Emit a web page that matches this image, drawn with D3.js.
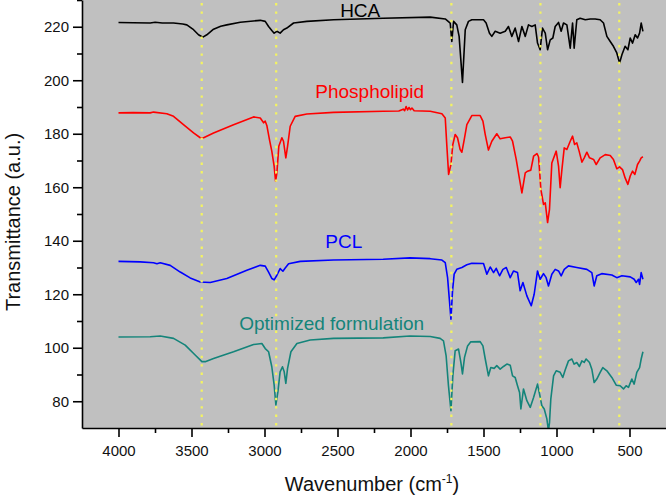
<!DOCTYPE html>
<html>
<head>
<meta charset="utf-8">
<script src="https://cdn.jsdelivr.net/npm/d3@7"></script>
<style>
  html, body { margin: 0; padding: 0; background: #ffffff; }
  svg { display: block; font-family: "Liberation Sans", Arial, sans-serif; }
</style>
</head>
<body>
<svg id="chart" width="666" height="496"></svg>
<script>
// ---------------- data ----------------
const xMajorTicks = [4000, 3500, 3000, 2500, 2000, 1500, 1000, 500];
const yMajorTicks = [80, 100, 120, 140, 160, 180, 200, 220];
const markerWavenumbers = [3430, 2920, 1720, 1110, 570];

const hca = [[4000,221.6],[3900,221.5],[3783,221.4],[3749,221.7],[3700,221.4],[3623,221.4],[3560,221.0],[3532,220.7],[3486,218.9],[3452,217.0],[3422,216.1],[3395,217.0],[3349,219.1],[3300,220.2],[3258,220.7],[3166,221.7],[3029,222.4],[2995,222.0],[2972,220.1],[2950,218.6],[2934,217.6],[2915,218.3],[2893,217.6],[2870,218.9],[2847,219.5],[2801,221.4],[2710,222.0],[2527,222.6],[2187,223.2],[1865,223.6],[1762,222.9],[1728,221.4],[1717,214.5],[1705,222.0],[1683,220.7],[1667,216.4],[1644,199.2],[1625,218.9],[1603,222.0],[1580,222.6],[1500,222.6],[1482,221.4],[1459,217.6],[1443,216.4],[1420,218.3],[1386,217.6],[1351,218.3],[1329,220.1],[1306,216.4],[1283,219.5],[1260,214.5],[1237,220.1],[1214,216.4],[1192,220.7],[1169,220.1],[1146,220.7],[1130,213.9],[1112,211.4],[1096,219.5],[1077,217.6],[1061,211.4],[1043,215.1],[1025,215.8],[1009,220.1],[986,221.6],[968,218.3],[952,221.4],[929,220.7],[906,212.0],[890,221.4],[879,212.0],[861,222.6],[838,223.2],[803,222.6],[769,222.9],[735,222.9],[701,222.6],[678,221.4],[655,216.4],[632,214.5],[610,212.7],[587,210.2],[568,206.4],[552,209.5],[530,212.7],[511,211.4],[495,215.8],[479,213.9],[461,217.0],[445,215.8],[431,217.6],[420,221.4],[408,218.3]];

const phospholipid = [[4000,187.8],[3900,187.9],[3783,187.8],[3760,188.1],[3669,187.5],[3623,186.5],[3555,183.4],[3486,180.3],[3440,178.5],[3417,178.5],[3349,180.3],[3212,183.4],[3075,186.3],[3029,185.9],[3006,184.1],[2995,184.7],[2984,183.1],[2966,177.8],[2950,173.5],[2934,167.9],[2924,162.3],[2915,165.4],[2902,175.3],[2881,178.5],[2870,177.2],[2854,171.0],[2842,175.3],[2824,182.8],[2790,186.5],[2710,187.4],[2527,188.0],[2187,188.4],[2080,188.5],[2050,189.2],[2040,188.6],[2030,190.2],[2020,188.9],[2010,189.8],[2000,189.0],[1990,189.6],[1975,188.6],[1865,188.4],[1785,187.5],[1762,185.9],[1751,175.4],[1739,164.8],[1723,168.5],[1710,176.0],[1694,179.7],[1678,178.5],[1660,174.1],[1648,173.1],[1632,177.8],[1614,183.4],[1580,186.8],[1523,186.8],[1504,184.7],[1488,179.7],[1466,173.9],[1443,177.2],[1409,180.0],[1386,178.1],[1351,178.5],[1317,178.8],[1301,177.2],[1276,170.4],[1253,162.9],[1237,157.9],[1214,165.4],[1198,166.0],[1176,166.4],[1157,171.6],[1134,172.6],[1123,171.4],[1107,159.2],[1089,153.6],[1077,154.2],[1061,146.8],[1048,151.7],[1032,169.1],[1002,173.5],[986,167.9],[975,159.8],[963,166.6],[947,174.7],[929,174.1],[906,177.2],[890,179.1],[876,176.0],[861,176.6],[845,173.5],[826,169.4],[810,171.0],[792,173.1],[774,171.0],[746,170.4],[728,168.5],[701,171.0],[666,172.2],[632,171.9],[610,170.4],[587,166.9],[568,167.6],[548,166.6],[530,163.5],[511,161.1],[495,164.2],[479,166.0],[463,164.8],[445,168.5],[431,169.8],[420,171.0],[408,171.4]];

const pcl = [[4000,132.3],[3851,132.1],[3760,131.8],[3737,131.4],[3714,131.8],[3646,130.8],[3577,128.3],[3509,126.1],[3440,124.6],[3372,124.4],[3258,125.9],[3121,129.0],[3029,130.8],[2995,130.5],[2972,128.3],[2950,125.9],[2934,125.4],[2915,127.1],[2893,129.6],[2874,128.6],[2858,129.8],[2835,131.4],[2755,132.3],[2527,132.8],[2187,133.1],[2004,133.6],[1865,133.3],[1785,132.8],[1762,131.8],[1746,126.2],[1735,118.8],[1723,110.7],[1712,121.3],[1701,127.5],[1683,129.3],[1648,130.0],[1614,131.0],[1580,131.6],[1500,131.5],[1477,127.5],[1454,130.2],[1431,128.1],[1413,129.7],[1390,126.9],[1367,129.3],[1344,130.0],[1317,126.2],[1294,128.7],[1267,128.1],[1249,121.3],[1230,124.4],[1203,119.4],[1173,115.7],[1153,120.0],[1130,128.7],[1112,125.6],[1089,127.7],[1071,126.2],[1055,123.1],[1032,127.5],[1009,129.3],[986,128.7],[968,126.9],[947,129.3],[918,130.6],[861,130.0],[792,129.3],[758,128.1],[742,123.1],[724,126.9],[690,127.7],[621,127.2],[587,126.2],[552,126.9],[495,126.5],[468,125.6],[454,124.4],[438,125.6],[431,123.7],[420,128.1],[408,125.6]];

const optimized = [[4000,104.0],[3783,104.1],[3714,104.4],[3623,103.5],[3543,101.0],[3475,97.3],[3429,94.8],[3406,94.8],[3349,96.0],[3212,98.5],[3075,101.2],[3018,101.6],[2995,99.7],[2972,98.5],[2950,92.9],[2934,86.1],[2922,78.6],[2908,83.6],[2893,91.0],[2877,92.9],[2865,91.0],[2854,86.7],[2842,92.3],[2819,98.5],[2778,101.6],[2687,102.9],[2527,103.5],[2187,103.7],[2004,104.4],[1865,104.2],[1797,103.5],[1774,102.6],[1756,97.0],[1740,85.8],[1723,76.5],[1710,89.5],[1694,98.9],[1671,99.5],[1655,94.5],[1644,90.2],[1630,96.4],[1609,100.7],[1587,102.2],[1523,102.3],[1504,100.7],[1488,95.8],[1466,89.5],[1450,92.6],[1427,92.3],[1409,93.3],[1386,92.0],[1363,93.0],[1340,93.9],[1317,93.5],[1301,89.5],[1283,88.9],[1267,85.8],[1253,83.3],[1244,77.1],[1226,84.6],[1203,80.2],[1180,77.7],[1157,81.4],[1130,86.4],[1116,82.7],[1100,78.3],[1084,77.1],[1066,73.4],[1055,69.0],[1048,72.0],[1039,80.8],[1020,89.5],[1002,91.4],[975,90.8],[957,88.9],[940,91.8],[918,95.1],[895,95.8],[879,93.9],[861,94.5],[843,93.0],[826,95.1],[810,94.5],[797,95.8],[774,94.5],[758,92.0],[742,87.0],[724,88.3],[701,90.8],[683,92.6],[655,91.4],[621,88.9],[591,86.0],[564,85.8],[541,84.6],[523,85.8],[507,85.2],[484,88.3],[468,86.4],[450,90.8],[431,92.6],[420,95.8],[408,98.5]];

const seriesNames = ["HCA", "Phospholipid", "PCL", "Optimized formulation"];
const seriesColors = ["#000000", "#ff0000", "#0000ff", "#14847a"];
const seriesData = [hca, phospholipid, pcl, optimized];
// label anchor (wavenumber, transmittance) for each series name
const labelAnchors = [[2482, 223.7], [2652, 193.5], [2584, 137.2], [3173, 106.6]];

// ---------------- layout ----------------
const svg = d3.select("#chart");
const plot = { left: 82, right: 666, top: 0, bottom: 428 };
const x = d3.scaleLinear().domain([4250, 250]).range([plot.left, plot.right]);
const y = d3.scaleLinear().domain([70, 230]).range([plot.bottom, plot.top]);

svg.append("defs").append("clipPath").attr("id", "clip")
  .append("rect").attr("x", plot.left).attr("y", plot.top)
  .attr("width", plot.right - plot.left).attr("height", plot.bottom - plot.top);

// background
svg.append("rect").attr("x", plot.left).attr("y", plot.top)
  .attr("width", plot.right - plot.left).attr("height", plot.bottom - plot.top)
  .attr("fill", "#c0c0c0");

// series
const line = d3.line().x(d => x(d[0])).y(d => y(d[1]));
const g = svg.append("g").attr("clip-path", "url(#clip)");
seriesData.forEach((data, i) => {
  g.append("path").datum(data).attr("d", line)
    .attr("fill", "none").attr("stroke", seriesColors[i])
    .attr("stroke-width", 1.6).attr("stroke-linejoin", "round");
});

// dotted marker lines
g.selectAll("line.marker").data(markerWavenumbers).enter().append("line")
  .attr("class", "marker")
  .attr("x1", d => x(d)).attr("x2", d => x(d))
  .attr("y1", plot.top + 3).attr("y2", plot.bottom)
  .attr("stroke", "#f4f460").attr("stroke-width", 2.2)
  .attr("stroke-dasharray", "2.4,6");

// series labels
svg.selectAll("text.lbl").data(seriesNames).enter().append("text")
  .attr("class", "lbl")
  .attr("x", (d, i) => x(labelAnchors[i][0]))
  .attr("y", (d, i) => y(labelAnchors[i][1]))
  .attr("fill", (d, i) => seriesColors[i])
  .attr("font-size", 19)
  .text(d => d);

// axes
const xMinor = d3.range(3750, 500, -500);
const yMinor = d3.range(90, 231, 20);

const xAxis = svg.append("g").attr("transform", `translate(0,${plot.bottom})`)
  .call(d3.axisBottom(x).tickValues(xMajorTicks).tickSize(9).tickSizeOuter(0).tickPadding(8).tickFormat(d3.format("d")));
xAxis.selectAll(".tick text").attr("font-size", 15).attr("font-family", "Liberation Sans, Arial, sans-serif").attr("fill", "#111");
xAxis.selectAll("line, path").attr("stroke", "#000").attr("stroke-width", 1.6);
const xAxisMinor = svg.append("g").attr("transform", `translate(0,${plot.bottom})`)
  .call(d3.axisBottom(x).tickValues(xMinor).tickSize(5).tickSizeOuter(0).tickFormat(""));
xAxisMinor.select("path").remove();
xAxisMinor.selectAll("line").attr("stroke", "#000").attr("stroke-width", 1.6);

const yAxis = svg.append("g").attr("transform", `translate(${plot.left},0)`)
  .call(d3.axisLeft(y).tickValues(yMajorTicks).tickSize(9).tickSizeOuter(0).tickPadding(4).tickFormat(d3.format("d")));
yAxis.selectAll(".tick text").attr("font-size", 15).attr("font-family", "Liberation Sans, Arial, sans-serif").attr("fill", "#111");
yAxis.selectAll("line, path").attr("stroke", "#000").attr("stroke-width", 1.6);
const yAxisMinor = svg.append("g").attr("transform", `translate(${plot.left},0)`)
  .call(d3.axisLeft(y).tickValues(yMinor).tickSize(5).tickSizeOuter(0).tickFormat(""));
yAxisMinor.select("path").remove();
yAxisMinor.selectAll("line").attr("stroke", "#000").attr("stroke-width", 1.6);

// axis titles
const xt = svg.append("text").attr("x", 372).attr("y", 491)
  .attr("text-anchor", "middle").attr("font-size", 20).attr("fill", "#111");
xt.append("tspan").text("Wavenumber (cm");
xt.append("tspan").attr("font-size", 12).attr("dy", -8).text("-1");
xt.append("tspan").attr("dy", 8).text(")");

svg.append("text")
  .attr("transform", `translate(20,222) rotate(-90)`)
  .attr("text-anchor", "middle").attr("font-size", 20).attr("fill", "#111")
  .text("Transmittance (a.u.)");
</script>
</body>
</html>
